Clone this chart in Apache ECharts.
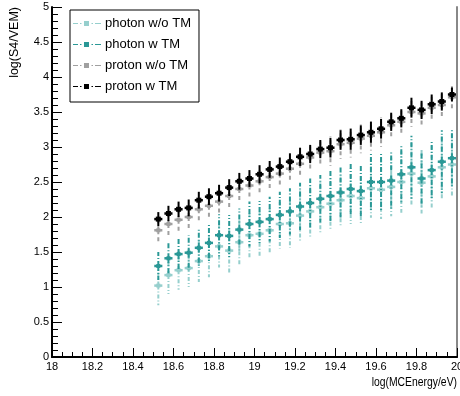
<!DOCTYPE html>
<html>
<head>
<meta charset="utf-8">
<script src="https://cdn.jsdelivr.net/npm/echarts@6/dist/echarts.min.js"></script>
<style>
  html, body { margin: 0; padding: 0; background: #fff; }
  #chart { width: 460px; height: 396px; }
</style>
</head>
<body>
<div id="chart"></div>
<script>
// bin centres, log(MCEnergy/eV)
const energyBins = [18.525, 18.575, 18.625, 18.675, 18.725, 18.775, 18.825, 18.875, 18.925, 18.975,
  19.025, 19.075, 19.125, 19.175, 19.225, 19.275, 19.325, 19.375, 19.425, 19.475,
  19.525, 19.575, 19.625, 19.675, 19.725, 19.775, 19.825, 19.875, 19.925, 19.975];

const photonNoTM = [1.02, 1.17, 1.24, 1.27, 1.37, 1.44, 1.58, 1.52, 1.64, 1.74,
  1.76, 1.81, 1.90, 1.91, 2.02, 2.08, 2.14, 2.19, 2.24, 2.30,
  2.27, 2.41, 2.39, 2.43, 2.50, 2.62, 2.49, 2.58, 2.71, 2.75];
const photonNoTMErr = [0.28, 0.27, 0.28, 0.27, 0.30, 0.30, 0.30, 0.32, 0.32, 0.34,
  0.33, 0.34, 0.35, 0.35, 0.36, 0.37, 0.36, 0.38, 0.38, 0.40,
  0.38, 0.42, 0.42, 0.42, 0.44, 0.47, 0.44, 0.45, 0.47, 0.45];

const photonTM = [1.30, 1.41, 1.47, 1.49, 1.56, 1.63, 1.74, 1.73, 1.82, 1.90,
  1.93, 1.97, 2.03, 2.08, 2.15, 2.20, 2.26, 2.30, 2.35, 2.40,
  2.37, 2.50, 2.50, 2.52, 2.61, 2.71, 2.55, 2.67, 2.79, 2.84];
const photonTMErr = [0.20, 0.22, 0.24, 0.25, 0.27, 0.28, 0.30, 0.30, 0.30, 0.32,
  0.30, 0.32, 0.33, 0.33, 0.34, 0.35, 0.34, 0.36, 0.37, 0.38,
  0.36, 0.40, 0.40, 0.40, 0.42, 0.45, 0.42, 0.43, 0.45, 0.42];

const protonNoTM = [1.81, 1.90, 1.96, 2.00, 2.11, 2.16, 2.22, 2.30, 2.40, 2.45,
  2.51, 2.57, 2.62, 2.69, 2.76, 2.85, 2.92, 2.94, 3.04, 3.06,
  3.12, 3.16, 3.21, 3.31, 3.36, 3.50, 3.48, 3.56, 3.60, 3.71];
const protonNoTMErr = [0.19, 0.19, 0.19, 0.19, 0.2, 0.2, 0.2, 0.2, 0.2, 0.2,
  0.2, 0.2, 0.2, 0.2, 0.2, 0.2, 0.2, 0.21, 0.21, 0.21,
  0.21, 0.21, 0.21, 0.2, 0.2, 0.21, 0.2, 0.2, 0.2, 0.18];

const protonTM = [1.97, 2.05, 2.11, 2.13, 2.24, 2.29, 2.34, 2.42, 2.51, 2.55,
  2.61, 2.68, 2.72, 2.79, 2.86, 2.90, 2.97, 2.99, 3.10, 3.11,
  3.17, 3.21, 3.26, 3.36, 3.41, 3.56, 3.53, 3.61, 3.65, 3.75];
const protonTMErr = [0.10, 0.11, 0.11, 0.12, 0.12, 0.12, 0.12, 0.12, 0.12, 0.12,
  0.13, 0.12, 0.13, 0.12, 0.13, 0.13, 0.13, 0.14, 0.14, 0.15,
  0.14, 0.15, 0.14, 0.13, 0.13, 0.14, 0.13, 0.14, 0.13, 0.10];

const xTicks = [18, 18.2, 18.4, 18.6, 18.8, 19, 19.2, 19.4, 19.6, 19.8, 20];
const yTicks = [0, 0.5, 1, 1.5, 2, 2.5, 3, 3.5, 4, 4.5, 5];

const FONT = '"Liberation Sans", Arial, sans-serif';
const HALF_W = 0.02;
const legendIcon = 'path://M0,3.4h5v1.2h-5z M7,3.4h1.5v1.2h-1.5z M11,1.5h5v5h-5z M18.5,3.4h1.5v1.2h-1.5z M22,3.4h6v1.2h-6z M28,0h0.01v8h-0.01z';

function zip(vals, errs) {
  return energyBins.map((x, i) => [x, vals[i], errs[i]]);
}

function errRenderer(color, dash, markerSize) {
  return function (params, api) {
    const x = api.value(0), y = api.value(1), e = api.value(2);
    const c = api.coord([x, y]);
    const l = api.coord([x - HALF_W, y]);
    const r = api.coord([x + HALF_W, y]);
    const t = api.coord([x, y + e]);
    const b = api.coord([x, y - e]);
    const vs = { stroke: color, lineWidth: 2, lineDash: dash };
    return {
      type: 'group',
      children: [
        { type: 'line', shape: { x1: c[0], y1: c[1], x2: t[0], y2: t[1] }, style: vs },
        { type: 'line', shape: { x1: c[0], y1: c[1], x2: b[0], y2: b[1] }, style: vs },
        { type: 'line', shape: { x1: l[0], y1: l[1], x2: r[0], y2: r[1] }, style: { stroke: color, lineWidth: 2.5 } },
        { type: 'rect', shape: { x: c[0] - markerSize / 2, y: c[1] - markerSize / 2, width: markerSize, height: markerSize }, style: { fill: color } }
      ]
    };
  };
}

const seriesDefs = [
  { name: 'photon w/o TM', color: '#96cfcd', dash: [4, 2, 1, 2], marker: 4, data: zip(photonNoTM, photonNoTMErr) },
  { name: 'photon w TM', color: '#2a9896', dash: [5, 2, 1, 2], marker: 4, data: zip(photonTM, photonTMErr) },
  { name: 'proton w/o TM', color: '#a0a0a0', dash: [4, 3], marker: 4, data: zip(protonNoTM, protonNoTMErr) },
  { name: 'proton w TM', color: '#000000', dash: null, marker: 5, data: zip(protonTM, protonTMErr) }
];

const chart = echarts.init(document.getElementById('chart'));
chart.setOption({
  animation: false,
  textStyle: { fontFamily: FONT },
  grid: { left: 52, right: 3, top: 7, bottom: 39, outerBoundsMode: 'none', containLabel: false },
  legend: {
    orient: 'vertical',
    left: 70,
    top: 10,
    itemWidth: 28,
    itemHeight: 8,
    itemGap: 8,
    padding: [7, 8, 9, 3],
    borderColor: '#000',
    borderWidth: 1,
    backgroundColor: '#fff',
    textStyle: { fontFamily: FONT, fontSize: 13, color: '#000', padding: [0, 0, 0, -1] },
    data: seriesDefs.map((s) => ({ name: s.name, icon: legendIcon })),
    selectedMode: false
  },
  xAxis: [
    {
      type: 'value',
      min: 18,
      max: 20,
      interval: 0.2,
      axisLine: { lineStyle: { color: '#000', width: 2 } },
      axisTick: { inside: true, length: 9, lineStyle: { color: '#000' } },
      minorTick: { show: true, splitNumber: 4, length: 5, lineStyle: { color: '#000' } },
      splitLine: { show: false },
      axisLabel: {
        fontFamily: FONT,
        fontSize: 11,
        color: '#000',
        margin: 4,
        formatter: (v) => (xTicks.includes(+v.toFixed(1)) ? String(+v.toFixed(1)) : '')
      }
    },
    {
      type: 'value',
      position: 'top',
      min: 18,
      max: 20,
      axisLine: { lineStyle: { color: '#000', width: 1 } },
      axisTick: { show: false },
      axisLabel: { show: false },
      splitLine: { show: false }
    }
  ],
  yAxis: [
    {
      type: 'value',
      min: 0,
      max: 5,
      interval: 0.5,
      axisLine: { show: true, lineStyle: { color: '#000', width: 2 } },
      axisTick: { show: true, inside: true, length: 10, lineStyle: { color: '#000' } },
      minorTick: { show: true, splitNumber: 5, length: 6, lineStyle: { color: '#000' } },
      splitLine: { show: false },
      axisLabel: {
        fontFamily: FONT,
        fontSize: 11,
        color: '#000',
        margin: 3,
        formatter: (v) => (yTicks.includes(+v.toFixed(1)) ? String(+v.toFixed(1)) : '')
      }
    },
    {
      type: 'value',
      position: 'right',
      min: 0,
      max: 5,
      axisLine: { show: true, lineStyle: { color: '#888', width: 2 } },
      axisTick: { show: false },
      axisLabel: { show: false },
      splitLine: { show: false }
    }
  ],
  graphic: [
    {
      type: 'text',
      x: 15,
      y: 7,
      rotation: Math.PI / 2,
      style: { text: 'log(S4/VEM)', fontFamily: FONT, fontSize: 12.5, fill: '#000', align: 'right', verticalAlign: 'middle' }
    },
    {
      type: 'text',
      x: 457,
      y: 383,
      scaleX: 0.83,
      style: { text: 'log(MCEnergy/eV)', fontFamily: FONT, fontSize: 12.5, fill: '#000', align: 'right', verticalAlign: 'middle' }
    }
  ],
  series: seriesDefs.map((s) => ({
    name: s.name,
    type: 'custom',
    xAxisIndex: 0,
    yAxisIndex: 0,
    clip: true,
    itemStyle: { color: s.color },
    renderItem: errRenderer(s.color, s.dash, s.marker),
    encode: { x: 0, y: 1 },
    data: s.data
  }))
});
</script>
</body>
</html>
